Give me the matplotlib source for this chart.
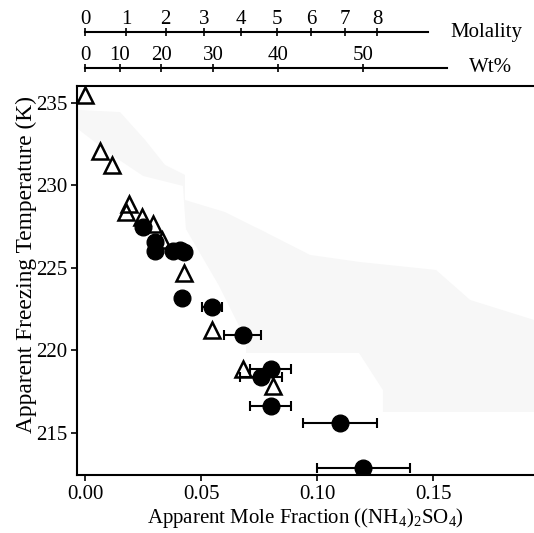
import matplotlib
matplotlib.use("Agg")
import matplotlib.pyplot as plt
import numpy as np

plt.rcParams['font.family'] = ['Liberation Serif', 'DejaVu Serif']
plt.rcParams['mathtext.fontset'] = 'custom'
plt.rcParams['mathtext.rm'] = 'Liberation Serif'

# ---- data ----
tri_x = [0.000, 0.0065, 0.0115, 0.019, 0.0177, 0.0247, 0.0292, 0.033, 0.0427, 0.0549, 0.068, 0.0809]
tri_T = [235.5, 232.1, 231.25, 228.9, 228.4, 228.1, 227.67, 226.7, 224.7, 221.24, 218.9, 217.85]

circ_x = [0.0249, 0.030, 0.030, 0.038, 0.041, 0.0425, 0.042, 0.0549, 0.068, 0.080, 0.0759, 0.080, 0.110, 0.120]
circ_T = [227.5, 226.6, 226.05, 226.05, 226.1, 225.95, 223.15, 222.65, 220.95, 218.9, 218.4, 216.65, 215.6, 212.9]
circ_xerr = [0.0, 0.0, 0.0, 0.0, 0.0, 0.003, 0.0, 0.0043, 0.008, 0.009, 0.0089, 0.0089, 0.016, 0.020]

# faint shaded band (data coordinates)
band_x = [-0.003, 0.0151, 0.0259, 0.0345, 0.0431, 0.0431, 0.0603, 0.0776, 0.097, 0.1185, 0.1513,
          0.166, 0.1935, 0.1935, 0.1284, 0.1284, 0.1181, 0.0694, 0.0694, 0.0578, 0.0435, 0.0422,
          0.025, 0.0103, -0.003]
band_T = [234.58, 234.45, 232.76, 231.24, 230.64, 229.12, 228.39, 227.18, 225.79, 225.36, 224.88,
          223.06, 221.85, 216.27, 216.27, 217.6, 219.85, 219.85, 220.64, 223.91, 227.36, 229.97,
          230.58, 231.97, 233.42]

x_ticks = [0.00, 0.05, 0.10, 0.15]
x_ticklabels = ['0.00', '0.05', '0.10', '0.15']
y_ticks = [215, 220, 225, 230, 235]
molality_ticks = [0, 1, 2, 3, 4, 5, 6, 7, 8]
wt_ticks = [0, 10, 20, 30, 40, 50]

M_SALT = 132.14
MOL_WATER = 55.51


def molality_to_x(m):
    m = np.asarray(m, dtype=float)
    return m / (m + MOL_WATER)


def wt_to_x(w):
    w = np.asarray(w, dtype=float)
    m = 1000.0 * w / (M_SALT * (100.0 - w))
    return molality_to_x(m)


W, H = 534, 533
fig = plt.figure(figsize=(W / 100, H / 100), dpi=100)

xlim = (-0.00345, 0.19353)
ax = fig.add_axes([77 / W, 1 - 475 / H, (W - 77) / W, (475 - 86) / H])
ax.set_xlim(*xlim)
ax.set_ylim(212.45, 236.03)

ax.fill(band_x, band_T, color='#f7f7f7', lw=0, zorder=0)

ax.plot(tri_x, tri_T, linestyle='none', marker='^', markersize=11,
        markerfacecolor='none', markeredgecolor='black', markeredgewidth=1.8, zorder=3)
ax.errorbar(circ_x, circ_T, xerr=circ_xerr, fmt='o', color='black', markersize=12,
            ecolor='black', elinewidth=1.5, capsize=3.6, capthick=1.5, zorder=4)

ax.set_xticks(x_ticks)
ax.set_xticklabels(x_ticklabels)
ax.set_yticks(y_ticks)
ax.tick_params(direction='out', length=4, width=1.2, labelsize=15, pad=3)
ax.spines['right'].set_visible(False)
for s in ['left', 'bottom', 'top']:
    ax.spines[s].set_linewidth(1.5)

ax.set_xlabel(r'Apparent Mole Fraction ((NH$_4$)$_2$SO$_4$)', fontsize=15, labelpad=2)
ax.set_ylabel('Apparent Freezing Temperature (K)', fontsize=16.8)
ax.yaxis.set_label_coords(-0.087, 0.54)


def top_scale(ypix, ticks, positions, end_x, label, label_x):
    a = fig.add_axes([77 / W, 1 - ypix / H, (W - 77) / W, 0.0001])
    a.set_xlim(*xlim)
    a.set_ylim(0, 1)
    for s in ['left', 'right', 'bottom']:
        a.spines[s].set_visible(False)
    a.spines['top'].set_bounds(0, end_x)
    a.spines['top'].set_linewidth(1.5)
    a.set_yticks([])
    a.xaxis.set_ticks_position('top')
    a.set_xticks(positions)
    a.set_xticklabels([str(t) for t in ticks])
    a.tick_params(axis='x', direction='inout', length=6, width=1.2, labelsize=15, pad=-1)
    a.patch.set_visible(False)
    fig.text(label_x / W, 1 - ypix / H, label, fontsize=15, ha='left', va='center')


top_scale(32, molality_ticks, molality_to_x(molality_ticks), 0.1478, 'Molality', 450)
top_scale(68, wt_ticks, wt_to_x(wt_ticks), 0.156, 'Wt%', 469)

fig.savefig('out.png', dpi=100)
